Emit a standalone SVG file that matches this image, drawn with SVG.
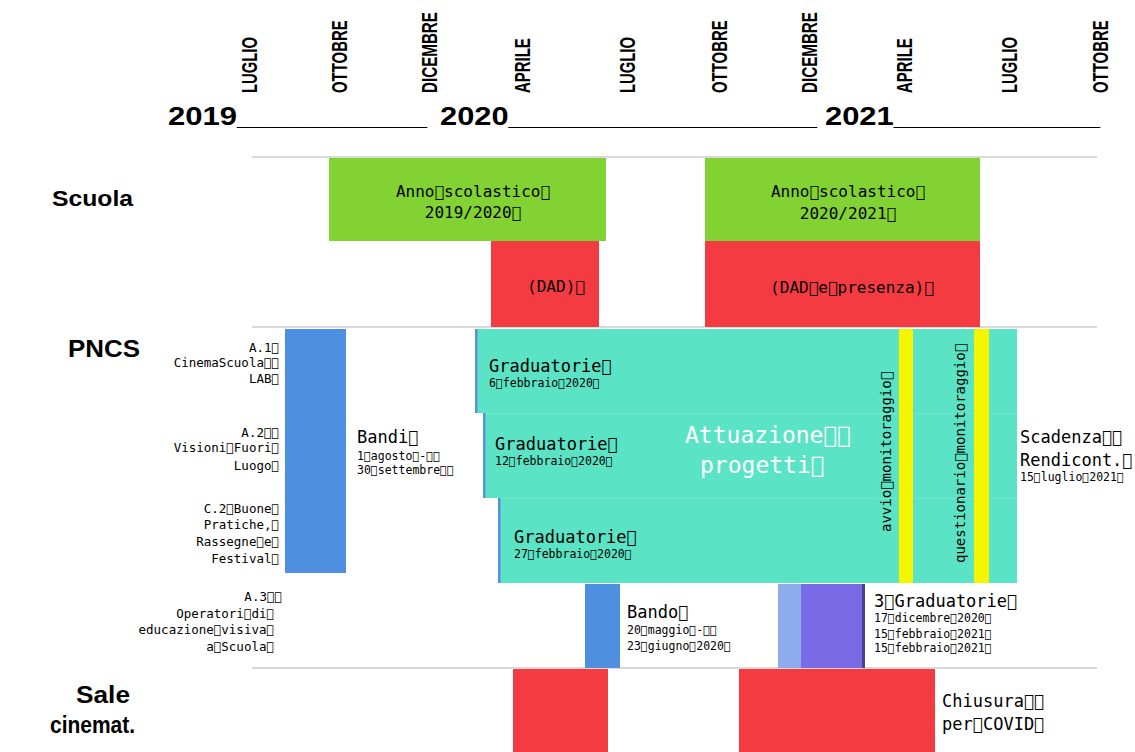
<svg xmlns="http://www.w3.org/2000/svg" width="1135" height="752" viewBox="0 0 1135 752">
<style>
.hd{font-family:"Liberation Sans",Arial,sans-serif;font-weight:bold;fill:#000}
.mo{font-family:"Liberation Sans",Arial,sans-serif;font-weight:bold;font-size:22px;fill:#000}
.yr{font-family:"Liberation Sans",Arial,sans-serif;font-weight:bold;font-size:25px;fill:#000}
.m{font-family:"DejaVu Sans Mono",monospace;fill:#000}
.s16{font-size:16px}
.s17{font-size:17px}
.s13{font-size:13px}
.s12{font-size:12.5px}
.s11{font-size:11.5px}
.s14{font-size:14px}
.grid{stroke:#d9d9d9;stroke-width:2;fill:none}
.green{fill:#82d234}
.red{fill:#f43b42}
.blue{fill:#4e8fdf}
.teal{fill:#5ae3c4}
.yel{fill:#f5f500}
.edge{fill:#5b8fd8}
.wt{fill:#fff}
</style>
<rect x="0" y="0" width="1135" height="752" fill="#fff"/>

<g id="months">
<text class="mo" transform="translate(257,93) rotate(-90) scale(0.674,1)">LUGLIO</text>
<text class="mo" transform="translate(347,93) rotate(-90) scale(0.678,1)">OTTOBRE</text>
<text class="mo" transform="translate(437,93) rotate(-90) scale(0.69,1)">DICEMBRE</text>
<text class="mo" transform="translate(530,93) rotate(-90) scale(0.68,1)">APRILE</text>
<text class="mo" transform="translate(635,93) rotate(-90) scale(0.674,1)">LUGLIO</text>
<text class="mo" transform="translate(727,93) rotate(-90) scale(0.678,1)">OTTOBRE</text>
<text class="mo" transform="translate(817,93) rotate(-90) scale(0.69,1)">DICEMBRE</text>
<text class="mo" transform="translate(912,93) rotate(-90) scale(0.68,1)">APRILE</text>
<text class="mo" transform="translate(1017,93) rotate(-90) scale(0.674,1)">LUGLIO</text>
<text class="mo" transform="translate(1108,93) rotate(-90) scale(0.678,1)">OTTOBRE</text>
</g>

<g id="years">
<text class="yr" x="168" y="125" textLength="259" lengthAdjust="spacingAndGlyphs">2019___________</text>
<text class="yr" x="440" y="125" textLength="377" lengthAdjust="spacingAndGlyphs">2020__________________</text>
<text class="yr" x="825" y="125" textLength="275" lengthAdjust="spacingAndGlyphs">2021____________</text>
</g>

<g id="gridlines">
<line class="grid" x1="252" y1="157" x2="1097" y2="157"/>
<line class="grid" x1="252" y1="327" x2="1097" y2="327"/>
<line class="grid" x1="252" y1="668" x2="1097" y2="668"/>
</g>

<g id="row-labels">
<text class="hd" x="52" y="206" font-size="22" textLength="81" lengthAdjust="spacingAndGlyphs">Scuola</text>
<text class="hd" x="68" y="357" font-size="23" textLength="72" lengthAdjust="spacingAndGlyphs">PNCS</text>
<text class="hd" x="76" y="703" font-size="23" textLength="54" lengthAdjust="spacingAndGlyphs">Sale</text>
<text class="hd" x="50" y="733" font-size="23" textLength="85" lengthAdjust="spacingAndGlyphs">cinemat.</text>
</g>

<g id="anno-2019">
<rect class="green" x="329" y="158" width="277" height="83"/>
<text class="m s16" x="473" y="197" text-anchor="middle">Anno&#xF020;scolastico&#xF020;</text>
<text class="m s16" x="473" y="218" text-anchor="middle">2019/2020&#xF020;</text>
</g>
<g id="dad-2020">
<rect class="red" x="491" y="241" width="108" height="86"/>
<text class="m s16" x="556" y="292" text-anchor="middle">(DAD)&#xF020;</text>
</g>
<g id="anno-2020">
<rect class="green" x="705" y="158" width="275" height="83"/>
<text class="m s16" x="848" y="197" text-anchor="middle">Anno&#xF020;scolastico&#xF020;</text>
<text class="m s16" x="848" y="219" text-anchor="middle">2020/2021&#xF020;</text>
</g>
<g id="dad-presenza">
<rect class="red" x="705" y="241" width="275" height="86"/>
<text class="m s16" x="852" y="293" text-anchor="middle">(DAD&#xF020;e&#xF020;presenza)&#xF020;</text>
</g>

<g id="pncs-labels">
<text class="m s12" x="279" y="352" text-anchor="end">A.1&#xF020;</text>
<text class="m s12" x="279" y="367" text-anchor="end">CinemaScuola&#xF020;&#xF020;</text>
<text class="m s12" x="279" y="383" text-anchor="end">LAB&#xF020;</text>
<text class="m s12" x="279" y="437" text-anchor="end">A.2&#xF020;&#xF020;</text>
<text class="m s12" x="279" y="452" text-anchor="end">Visioni&#xF020;Fuori&#xF020;</text>
<text class="m s12" x="279" y="470" text-anchor="end">Luogo&#xF020;</text>
<text class="m s12" x="279" y="513" text-anchor="end">C.2&#xF020;Buone&#xF020;</text>
<text class="m s12" x="279" y="529" text-anchor="end">Pratiche,&#xF020;</text>
<text class="m s12" x="279" y="546" text-anchor="end">Rassegne&#xF020;e&#xF020;</text>
<text class="m s12" x="279" y="563" text-anchor="end">Festival&#xF020;</text>
</g>

<g id="bandi">
<rect class="blue" x="285" y="329" width="61" height="244"/>
<text class="m s17" x="357" y="443">Bandi&#xF020;</text>
<text class="m s11" x="357" y="460">1&#xF020;agosto&#xF020;-&#xF020;&#xF020;</text>
<text class="m s11" x="357" y="474">30&#xF020;settembre&#xF020;&#xF020;</text>
</g>

<g id="attuazione">
<rect class="teal" x="476" y="329" width="541" height="84"/>
<rect class="teal" x="484" y="413" width="533" height="85"/>
<rect class="teal" x="499" y="498" width="518" height="85"/>
<line x1="485" y1="413.5" x2="1017" y2="413.5" stroke="#6fe8cc" stroke-width="1"/>
<line x1="500" y1="498.5" x2="1017" y2="498.5" stroke="#6fe8cc" stroke-width="1"/>
<rect class="edge" x="475" y="329" width="2.5" height="84"/>
<rect class="edge" x="483" y="413" width="2.5" height="85"/>
<rect class="edge" x="498" y="498" width="2.5" height="85"/>
<text class="m s17" x="489" y="372">Graduatorie&#xF020;</text>
<text class="m s11" x="489" y="387">6&#xF020;febbraio&#xF020;2020&#xF020;</text>
<text class="m s17" x="495" y="450">Graduatorie&#xF020;</text>
<text class="m s11" x="495" y="465">12&#xF020;febbraio&#xF020;2020&#xF020;</text>
<text class="m s17" x="514" y="543">Graduatorie&#xF020;</text>
<text class="m s11" x="514" y="558">27&#xF020;febbraio&#xF020;2020&#xF020;</text>
<text class="m wt" x="685" y="443" font-size="23">Attuazione&#xF020;&#xF020;</text>
<text class="m wt" x="700" y="473" font-size="23">progetti&#xF020;</text>
</g>

<g id="monitoraggio">
<rect class="yel" x="899" y="329" width="14" height="254"/>
<rect class="yel" x="974" y="329" width="15" height="254"/>
<text class="m s14" transform="translate(891,532) rotate(-90)">avvio&#xF020;monitoraggio&#xF020;</text>
<text class="m s14" transform="translate(965,563) rotate(-90)">questionario&#xF020;monitoraggio&#xF020;</text>
</g>

<g id="scadenza">
<text class="m s17" x="1020" y="443">Scadenza&#xF020;&#xF020;</text>
<text class="m s17" x="1020" y="466">Rendicont.&#xF020;</text>
<text class="m s11" x="1020" y="481">15&#xF020;luglio&#xF020;2021&#xF020;</text>
</g>

<g id="a3-labels">
<text class="m s12" x="282" y="601" text-anchor="end">A.3&#xF020;&#xF020;</text>
<text class="m s12" x="274" y="618" text-anchor="end">Operatori&#xF020;di&#xF020;</text>
<text class="m s12" x="274" y="634" text-anchor="end">educazione&#xF020;visiva&#xF020;</text>
<text class="m s12" x="274" y="651" text-anchor="end">a&#xF020;Scuola&#xF020;</text>
</g>

<g id="bando">
<rect class="blue" x="585" y="584" width="35" height="84"/>
<text class="m s17" x="627" y="618">Bando&#xF020;</text>
<text class="m s11" x="627" y="634">20&#xF020;maggio&#xF020;-&#xF020;&#xF020;</text>
<text class="m s11" x="627" y="650">23&#xF020;giugno&#xF020;2020&#xF020;</text>
</g>

<g id="graduatorie-a3">
<rect x="778" y="584" width="23" height="84" fill="#8eabeb"/>
<rect x="801" y="584" width="62" height="84" fill="#7b6ae6"/>
<rect x="862" y="584" width="3" height="84" fill="#4e4290"/>
<text class="m s17" x="874" y="607">3&#xF020;Graduatorie&#xF020;</text>
<text class="m s11" x="874" y="622">17&#xF020;dicembre&#xF020;2020&#xF020;</text>
<text class="m s11" x="874" y="638">15&#xF020;febbraio&#xF020;2021&#xF020;</text>
<text class="m s11" x="874" y="652">15&#xF020;febbraio&#xF020;2021&#xF020;</text>
</g>

<g id="chiusura-2020">
<rect class="red" x="513" y="669" width="95" height="83"/>
</g>
<g id="chiusura-2021">
<rect class="red" x="739" y="669" width="196" height="83"/>
<text class="m s17" x="942" y="707">Chiusura&#xF020;&#xF020;</text>
<text class="m s17" x="942" y="730">per&#xF020;COVID&#xF020;</text>
</g>

<g id="connectors"/>
</svg>
